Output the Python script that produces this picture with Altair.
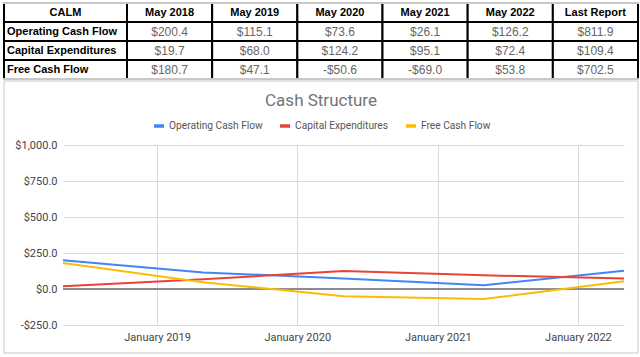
import altair as alt
import pandas as pd

# ---------------- data ----------------
ticker = "CALM"
columns = ["May 2018", "May 2019", "May 2020", "May 2021", "May 2022", "Last Report"]
dates = ["2018-05-01", "2019-05-01", "2020-05-01", "2021-05-01", "2022-05-01"]
series = ["Operating Cash Flow", "Capital Expenditures", "Free Cash Flow"]
operating_cf = [200.4, 115.1, 73.6, 26.1, 126.2, 811.9]
capex = [19.7, 68.0, 124.2, 95.1, 72.4, 109.4]
free_cf = [180.7, 47.1, -50.6, -69.0, 53.8, 702.5]
colors = ["#4285F4", "#EA4335", "#FBBC04"]
chart_title = "Cash Structure"
y_ticks = [-250, 0, 250, 500, 750, 1000]
x_tick_years = [2019, 2020, 2021, 2022]

values_by_series = [operating_cf, capex, free_cf]


def money(v):
    return ("-" if v < 0 else "") + f"${abs(v):,.1f}"


row_order = [ticker] + series

label_df = pd.DataFrame({"row": row_order, "col": ["label"] * len(row_order), "text": row_order})
cells = []
for c in columns:
    cells.append({"row": ticker, "col": c, "text": c, "kind": "header"})
for s, vals in zip(series, values_by_series):
    for c, v in zip(columns, vals):
        cells.append({"row": s, "col": c, "text": money(v), "kind": "value"})
cell_df = pd.DataFrame(cells)

line_rows = []
for s, vals in zip(series, values_by_series):
    for d, v in zip(dates, vals[: len(dates)]):
        line_rows.append({"date": d, "series": s, "value": v})
line_df = pd.DataFrame(line_rows)
one = pd.DataFrame({"a": [0]})
zero_df = pd.DataFrame({"value": [0]})

TABLE_FONT = "Liberation Sans"
CHART_FONT = "Roboto"

# ---------------- table ----------------
yenc = alt.Y("row:N", sort=row_order,
             scale=alt.Scale(domain=row_order, paddingInner=0, paddingOuter=0), axis=None)


def xlab():
    return alt.X("col:N", scale=alt.Scale(domain=["label"], range=[-59, 64],
                                          paddingInner=0, paddingOuter=0), axis=None)


def xcell():
    return alt.X("col:N", sort=columns, scale=alt.Scale(domain=columns, range=[64, 575],
                                                        paddingInner=0, paddingOuter=0), axis=None)


lab_rect = alt.Chart(label_df).mark_rect(fill="white", stroke="black", strokeWidth=2).encode(
    x=xlab(), y=yenc)
cell_rect = alt.Chart(cell_df).mark_rect(fill="white", stroke="black", strokeWidth=2).encode(
    x=xcell(), y=yenc)
top_rule = alt.Chart(one).mark_rule(color="#c8c8c8", strokeWidth=2).encode(
    x=alt.value(-60), x2=alt.value(576), y=alt.value(0))
bot_rule = alt.Chart(one).mark_rule(color="#c8c8c8", strokeWidth=2).encode(
    x=alt.value(-60), x2=alt.value(576), y=alt.value(76))

head_lab = alt.Chart(label_df).transform_filter(alt.datum.row == ticker).mark_text(
    font=TABLE_FONT, fontSize=11, fontWeight="bold", color="black").encode(
    x=xlab(), y=yenc, text="text:N")
row_lab = alt.Chart(label_df).transform_filter(alt.datum.row != ticker).mark_text(
    font=TABLE_FONT, fontSize=11, fontWeight="bold", color="black", align="left", dx=-58.5).encode(
    x=xlab(), y=yenc, text="text:N")
head_cells = alt.Chart(cell_df).transform_filter(alt.datum.kind == "header").mark_text(
    font=TABLE_FONT, fontSize=11, fontWeight="bold", color="black").encode(
    x=xcell(), y=yenc, text="text:N")
val_cells = alt.Chart(cell_df).transform_filter(alt.datum.kind == "value").mark_text(
    font=TABLE_FONT, fontSize=12, color="#666666").encode(
    x=xcell(), y=yenc, text="text:N")

table = alt.layer(lab_rect, cell_rect, top_rule, bot_rule, head_lab, row_lab, head_cells, val_cells).resolve_scale(
    x="independent").properties(width=561, height=76)

# ---------------- line chart ----------------
y_axis = alt.Axis(title=None, values=y_ticks, grid=True, labelOverlap=False,
                  labelExpr="(datum.value < 0 ? '-' : '') + '$' + format(abs(datum.value), ',.1f')",
                  domain=False, ticks=False, labelPadding=6, gridColor="#d9d9d9",
                  labelColor="#444444", labelFontSize=11, labelFont=CHART_FONT)
y_scale = alt.Scale(domain=[-250, 1000], nice=False, zero=False)

frame = alt.Chart(one).mark_rect(fillOpacity=0, stroke="#c8c8c8", strokeWidth=1).encode(
    x=alt.value(-59), x2=alt.value(575), y=alt.value(-64), y2=alt.value(208))
title = alt.Chart(one).mark_text(text=chart_title, font=CHART_FONT, fontSize=17,
                                 color="#757575").encode(x=alt.value(258), y=alt.value(-44))
zero = alt.Chart(zero_df).mark_rule(color="#8c8c8c", strokeWidth=2).encode(
    y=alt.Y("value:Q", scale=y_scale, axis=y_axis))

lines = alt.Chart(line_df).mark_line(strokeWidth=2).encode(
    x=alt.X("date:T",
            scale=alt.Scale(type="utc",
                            domain=[alt.DateTime(year=2018, month=5, date=1, utc=True),
                                    alt.DateTime(year=2022, month=5, date=1, utc=True)]),
            axis=alt.Axis(title=None, grid=True, labelOverlap=False,
                          labelExpr="utcFormat(datum.value, '%B %Y')",
                          values=[alt.DateTime(year=y, month=1, date=1, utc=True) for y in x_tick_years],
                          domain=False, ticks=False, labelPadding=6, gridColor="#d9d9d9",
                          labelColor="#444444", labelFontSize=11, labelFont=CHART_FONT)),
    y=alt.Y("value:Q", scale=y_scale, axis=y_axis),
    color=alt.Color("series:N", sort=series,
                    scale=alt.Scale(domain=series, range=colors),
                    legend=alt.Legend(orient="none", legendX=89, legendY=116, direction="horizontal",
                                      title=None, symbolType="stroke",
                                      symbolSize=100, symbolStrokeWidth=3.5, labelFontSize=10.2,
                                      labelColor="#555555", labelFont=CHART_FONT,
                                      columnPadding=10, labelOffset=3, padding=0)),
)

line_chart = alt.layer(frame, title, zero, lines).properties(width=561, height=180)

chart = alt.vconcat(table, line_chart, spacing=0).properties(
    padding={"left": 2, "top": 2, "right": 0, "bottom": 0}, background="white"
).configure_view(strokeWidth=0)

chart.save("out.html", embed_options={"renderer": "svg", "actions": False})
